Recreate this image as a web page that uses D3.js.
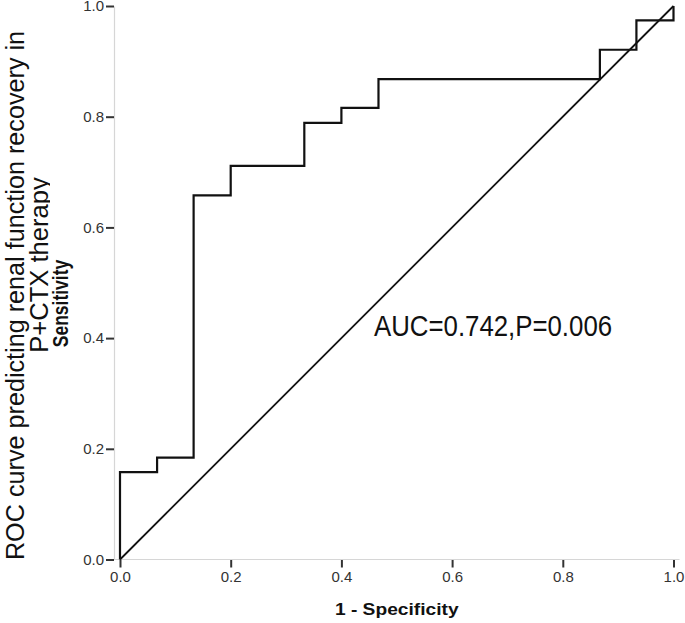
<!DOCTYPE html>
<html>
<head>
<meta charset="utf-8">
<title>ROC curve</title>
<script src="https://cdnjs.cloudflare.com/ajax/libs/d3/7.8.5/d3.min.js"></script>
<style>
    body { margin: 0; background: #fff; }
    svg { display: block; font-family: "Liberation Sans", Arial, sans-serif; }
</style>
</head>
<body>
<svg id="chart" width="685" height="623"></svg>
<script>

// roc points (1 - specificity, sensitivity), drawn as a staircase
var fpr = [0, 0, 0.067, 0.133, 0.2, 0.333, 0.4, 0.467, 0.867, 0.933, 1.0];
var tpr = [0, 0.158, 0.184, 0.658, 0.711, 0.789, 0.816, 0.868, 0.921, 0.974, 1.0];

// reference (chance) line
var refX = [0, 1];
var refY = [0, 1];

var tickValues = [0, 0.2, 0.4, 0.6, 0.8, 1.0];

var titleLines = ["ROC curve  predicting renal function recovery in", "P+CTX therapy"];
var yLabel = "Sensitivity";
var xLabel = "1 - Specificity";
var aucText = "AUC=0.742,P=0.006";

var svg = d3.select("#chart");

var x = d3.scaleLinear().domain([0, 1]).range([120, 673.5]);
var y = d3.scaleLinear().domain([0, 1]).range([559.5, 6]);

var axisGray = "#d6d6d6";
var tickColor = "#333";

// y axis, sits a few px left of x=0 like spss does
var yAxis = svg.append("g")
    .attr("transform", "translate(" + (x(0) - 6) + ",0)")
    .call(d3.axisLeft(y)
        .tickValues(tickValues)
        .tickFormat(d3.format(".1f"))
        .tickSize(8)
        .tickSizeOuter(0)
        .tickPadding(2));

// x axis
var xAxis = svg.append("g")
    .attr("transform", "translate(0," + y(0) + ")")
    .call(d3.axisBottom(x)
        .tickValues(tickValues)
        .tickFormat(d3.format(".1f"))
        .tickSize(8)
        .tickSizeOuter(0)
        .tickPadding(4));

xAxis.select(".domain").remove();
svg.append("line")
    .attr("x1", x(0) - 6).attr("x2", x(1) + 6)
    .attr("y1", y(0)).attr("y2", y(0))
    .attr("stroke", axisGray)
    .attr("stroke-width", 1.2);

yAxis.select(".domain").attr("stroke", axisGray).attr("stroke-width", 1.2);

[xAxis, yAxis].forEach(function(g) {
    g.selectAll(".tick line").attr("stroke", tickColor).attr("stroke-width", 2);
    g.selectAll(".tick text")
        .attr("fill", tickColor)
        .style("font-size", "15px")
        .style("font-family", "'Liberation Sans', Arial, sans-serif");
});

// diagonal
var line = d3.line()
    .x(function(d) { return x(d[0]); })
    .y(function(d) { return y(d[1]); });

svg.append("path")
    .datum(d3.zip(refX, refY))
    .attr("d", line)
    .attr("fill", "none")
    .attr("stroke", "#111")
    .attr("stroke-width", 1.8);

// roc staircase
var stepLine = d3.line()
    .curve(d3.curveStepAfter)
    .x(function(d) { return x(d[0]); })
    .y(function(d) { return y(d[1]); });

svg.append("path")
    .datum(d3.zip(fpr, tpr))
    .attr("d", stepLine)
    .attr("fill", "none")
    .attr("stroke", "#111")
    .attr("stroke-width", 2.2)
    .attr("stroke-linejoin", "miter");

// auc annotation
svg.append("text")
    .attr("transform", "translate(374,335.5) scale(0.89,1)")
    .attr("fill", "#111")
    .style("font-size", "29px")
    .text(aucText);

// x title
svg.append("text")
    .attr("transform", "translate(" + ((x(0) + x(1)) / 2) + ",615) scale(1.13,1)")
    .attr("text-anchor", "middle")
    .attr("fill", "#111")
    .style("font-size", "17px")
    .style("font-weight", "bold")
    .text(xLabel);

// y title, three rotated lines
svg.append("defs").append("clipPath")
    .attr("id", "clipTitle")
    .append("rect")
    .attr("x", 0).attr("y", 0)
    .attr("width", 50).attr("height", 623);

svg.append("text")
    .attr("transform", "translate(24,295.5) rotate(-90)")
    .attr("text-anchor", "middle")
    .attr("fill", "#111")
    .style("font-size", "25.2px")
    .text(titleLines[0]);

svg.append("g")
    .attr("clip-path", "url(#clipTitle)")
    .append("text")
    .attr("transform", "translate(48,265) rotate(-90)")
    .attr("text-anchor", "middle")
    .attr("fill", "#111")
    .style("font-size", "25.6px")
    .text(titleLines[1]);

svg.append("text")
    .attr("transform", "translate(68,303.5) rotate(-90) scale(1,1.3)")
    .attr("text-anchor", "middle")
    .attr("fill", "#111")
    .style("font-size", "17.5px")
    .style("font-weight", "bold")
    .text(yLabel);

</script>
</body>
</html>
